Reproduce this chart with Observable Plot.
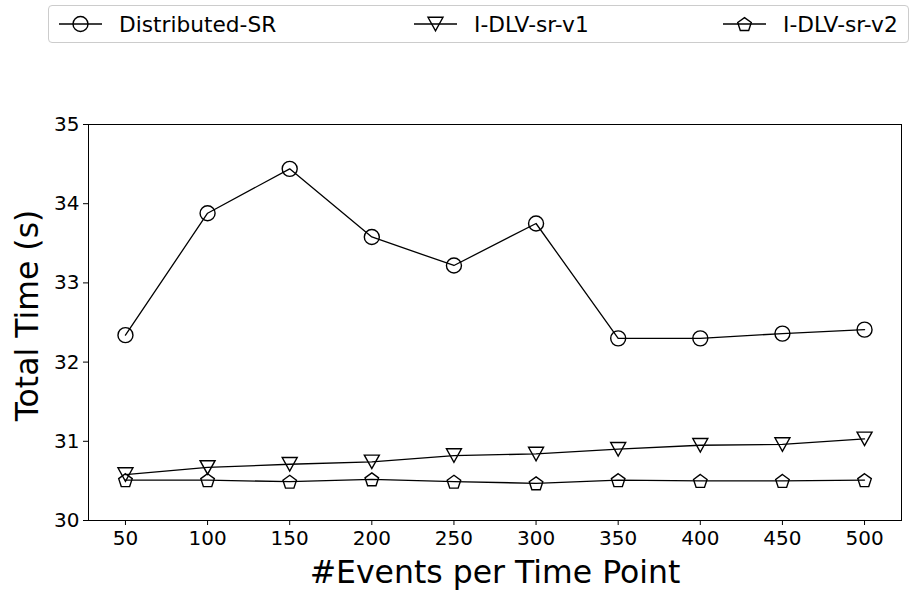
<!DOCTYPE html>
<html><head><meta charset="utf-8">
<script src="https://cdn.jsdelivr.net/npm/d3@7"></script>
<script src="https://cdn.jsdelivr.net/npm/@observablehq/plot@0.6"></script>
<style>
body{margin:0;background:#fff;font-family:"DejaVu Sans",sans-serif;}
#wrap{position:relative;width:912px;height:590px;overflow:hidden;}
#legend{position:absolute;left:48px;top:5px;width:861px;height:38px;border:1px solid #cccccc;border-radius:4px;box-sizing:border-box;background:#fff;}
.item{position:absolute;top:0;height:36px;display:flex;align-items:center;font-size:21.7px;color:#000;white-space:nowrap;}
.item svg{display:block;}
#chart{position:absolute;left:0;top:50px;}
</style></head><body>
<div id="wrap"><div id="legend"></div><div id="chart"></div></div>
<script>
// ---- data ----
const xValues = [50, 100, 150, 200, 250, 300, 350, 400, 450, 500];
const distributedSR = [32.34, 33.88, 34.44, 33.58, 33.22, 33.75, 32.30, 32.30, 32.36, 32.41];
const idlvV1 = [30.58, 30.67, 30.71, 30.74, 30.82, 30.84, 30.90, 30.95, 30.96, 31.03];
const idlvV2 = [30.51, 30.51, 30.49, 30.52, 30.49, 30.47, 30.51, 30.50, 30.50, 30.51];
const seriesNames = ["Distributed-SR", "I-DLV-sr-v1", "I-DLV-sr-v2"];
const xTicks = [50, 100, 150, 200, 250, 300, 350, 400, 450, 500];
const yTicks = [30, 31, 32, 33, 34, 35];
const xLabel = "#Events per Time Point";
const yLabel = "Total Time (s)";

// ---- custom marker shapes ----
const triangleDown = {
  draw(ctx, size) {
    const r = Math.sqrt(size / Math.PI);
    ctx.moveTo(-r, -0.9 * r);
    ctx.lineTo(r, -0.9 * r);
    ctx.lineTo(0, 0.9 * r);
    ctx.closePath();
  }
};
const pentagon = {
  draw(ctx, size) {
    const r = Math.sqrt(size / Math.PI) * 0.95;
    for (let i = 0; i < 5; i++) {
      const a = -Math.PI / 2 + i * 2 * Math.PI / 5;
      const x = r * Math.cos(a), y = r * Math.sin(a) + 0.1 * r;
      if (i === 0) ctx.moveTo(x, y); else ctx.lineTo(x, y);
    }
    ctx.closePath();
  }
};
const symbols = [d3.symbolCircle, triangleDown, pentagon];
const seriesValues = [distributedSR, idlvV1, idlvV2];

const data = seriesNames.map((name, s) =>
  xValues.map((x, i) => ({series: name, x, y: seriesValues[s][i]}))
);

const marks = [];
data.forEach((rows, s) => {
  marks.push(Plot.line(rows, {x: "x", y: "y", stroke: "black", strokeWidth: 1.3}));
  marks.push(Plot.dot(rows, {x: "x", y: "y", r: 7.5, symbol: () => symbols[s], stroke: "black", strokeWidth: 1.4, fill: "none"}));
});

const chart = Plot.plot({
  width: 912,
  height: 540,
  marginLeft: 88,
  marginRight: 11,
  marginTop: 74,
  marginBottom: 70,
  x: {domain: [27.5, 522.5]},
  y: {domain: [30, 35]},
  style: {fontFamily: "DejaVu Sans", color: "black", background: "white", overflow: "visible"},
  marks: [
    Plot.axisX(xTicks, {tickSize: 5, tickPadding: 5, fontSize: 20, label: null, stroke: "black", tickFormat: d3.format("d")}),
    Plot.axisY(yTicks, {tickSize: 5, tickPadding: 4, fontSize: 20, label: null, stroke: "black", tickFormat: d3.format("d")}),
    ...marks,
    Plot.frame({stroke: "black", strokeWidth: 1}),
    Plot.text([yLabel], {frameAnchor: "left", rotate: -90, dx: -61, dy: -7, fontSize: 31.5, textAnchor: "middle", lineAnchor: "middle", fill: "black"}),
    Plot.text([xLabel], {frameAnchor: "bottom", dy: 52, fontSize: 31.5, textAnchor: "middle", lineAnchor: "middle", fill: "black"})
  ]
});
document.getElementById("chart").appendChild(chart);

// ---- legend ----
const legend = document.getElementById("legend");
const legendPos = [
  {line: [58, 101], text: 118},
  {line: [413, 456], text: 473},
  {line: [722, 765], text: 782}
];
seriesNames.forEach((name, s) => {
  const p = legendPos[s];
  const left = p.line[0] - 48;
  const w = p.line[1] - p.line[0];
  const item = document.createElement("div");
  item.className = "item";
  item.style.left = left + "px";
  const svg = d3.create("svg").attr("width", p.text - p.line[0]).attr("height", 20);
  svg.append("line").attr("x1", 0).attr("x2", w).attr("y1", 10).attr("y2", 10).attr("stroke", "black").attr("stroke-width", 1.3);
  svg.append("path").attr("transform", `translate(${w / 2},10)`)
    .attr("d", d3.symbol(symbols[s], Math.PI * 7.5 * 7.5)())
    .attr("fill", "none").attr("stroke", "black").attr("stroke-width", 1.4);
  item.appendChild(svg.node());
  const span = document.createElement("span");
  span.textContent = name;
  item.appendChild(span);
  legend.appendChild(item);
});
</script>
</body></html>
